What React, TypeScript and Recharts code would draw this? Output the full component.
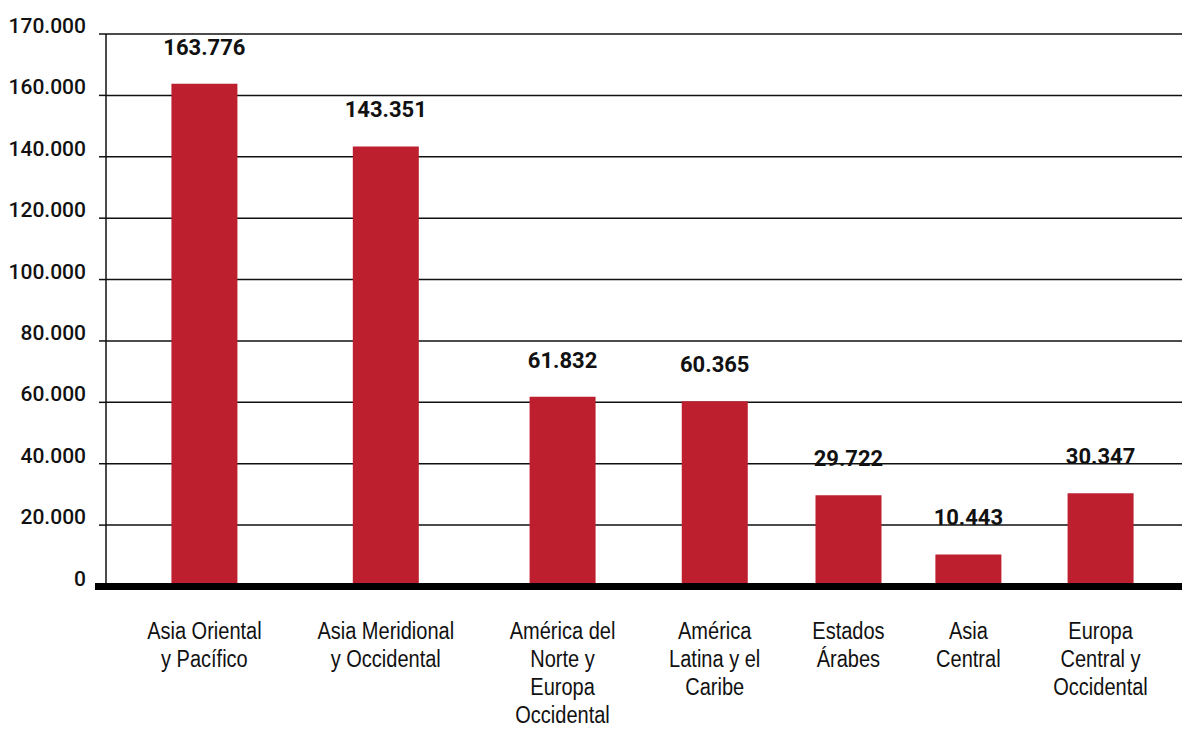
import React from 'react';
import {
    BarChart,
    Bar,
    XAxis,
    YAxis,
    CartesianGrid,
    LabelList,
    ReferenceLine,
} from 'recharts';

// Regions (line breaks as in the original labels)
const categories = [
    'Asia Oriental\ny Pacífico',
    'Asia Meridional\ny Occidental',
    'América del\nNorte y\nEuropa\nOccidental',
    'América\nLatina y el\nCaribe',
    'Estados\nÁrabes',
    'Asia\nCentral',
    'Europa\nCentral y\nOccidental',
];

// Values shown above each bar
const values = [163776, 143351, 61832, 60365, 29722, 10443, 30347];

// Where each column sits along the horizontal axis (0..7 slots, uneven in the original)
const columnPositions = [0.64, 1.82, 2.97, 3.96, 4.83, 5.61, 6.47];

// Y axis ticks and the labels printed next to them
const yTicks = [0, 20000, 40000, 60000, 80000, 100000, 120000, 140000, 160000, 180000];
const yTickLabels = ['0', '20.000', '40.000', '60.000', '80.000', '100.000', '120.000', '140.000', '160.000', '170.000'];

const BAR_COLOR = '#BD1F2F';
const INK = '#111111';
const NUM_FONT = 'Roboto, "Liberation Sans", Arial, sans-serif';
const CAT_FONT = '"Liberation Sans", Arial, sans-serif';

const TICK_SIZE = 7;
const TICK_MARGIN = 13;

const data = categories.map((name, i) => ({ name, pos: columnPositions[i], value: values[i] }));

const formatThousands = (v: number) => String(v).replace(/\B(?=(\d{3})+(?!\d))/g, '.');

// ============ Custom ticks ============
const YTick = (props: any) => {
    const { x, y, payload } = props;
    const idx = yTicks.indexOf(payload.value);
    const axisX = x + TICK_SIZE + TICK_MARGIN;
    return (
        <g>
            {payload.value === 0 && (
                <line x1={axisX - 11} x2={axisX + 1} y1={y} y2={y} stroke="#000" strokeWidth={7} />
            )}
            <text
                x={x}
                y={y}
                dy={-1}
                textAnchor="end"
                fill={INK}
                style={{ fontFamily: NUM_FONT, fontSize: 21, fontWeight: 500 }}
            >
                {yTickLabels[idx]}
            </text>
        </g>
    );
};

// condensed look: regular sans squeezed horizontally
const XTick = (props: any) => {
    const { x, y, payload } = props;
    const idx = columnPositions.indexOf(payload.value);
    const lines = (categories[idx] || '').split('\n');
    return (
        <text
            transform={`translate(${x},${y}) scale(0.87,1)`}
            x={0}
            y={0}
            textAnchor="middle"
            fill={INK}
            style={{ fontFamily: CAT_FONT, fontSize: 23 }}
        >
            {lines.map((line, i) => (
                <tspan key={i} x={0} dy={i === 0 ? 45 : 28}>
                    {line}
                </tspan>
            ))}
        </text>
    );
};

export default function App() {
    return (
        <div style={{ position: 'absolute', left: 0, top: 0, width: 1182, height: 731, background: '#fff' }}>
            <BarChart
                width={1182}
                height={731}
                data={data}
                margin={{ top: 34, right: 0, left: 0, bottom: 0 }}
            >
                <CartesianGrid vertical={false} stroke={INK} strokeWidth={1.5} />
                <XAxis
                    type="number"
                    dataKey="pos"
                    domain={[0, 7]}
                    ticks={columnPositions}
                    interval={0}
                    height={144.5}
                    tickLine={false}
                    axisLine={false}
                    tick={<XTick />}
                />
                <YAxis
                    domain={[0, 180000]}
                    ticks={yTicks}
                    interval={0}
                    width={106}
                    tickSize={TICK_SIZE}
                    tickMargin={TICK_MARGIN}
                    tickLine={{ stroke: INK, strokeWidth: 1.5 }}
                    axisLine={{ stroke: INK, strokeWidth: 1.5 }}
                    tick={<YTick />}
                />
                <Bar dataKey="value" fill={BAR_COLOR} barSize={66} isAnimationActive={false}>
                    <LabelList
                        dataKey="value"
                        position="top"
                        offset={29}
                        formatter={(v: any) => formatThousands(Number(v))}
                        style={{ fontFamily: NUM_FONT, fontSize: 22, fontWeight: 700, fill: INK }}
                    />
                </Bar>
                <ReferenceLine y={0} stroke="#000" strokeWidth={7} />
            </BarChart>
        </div>
    );
}
